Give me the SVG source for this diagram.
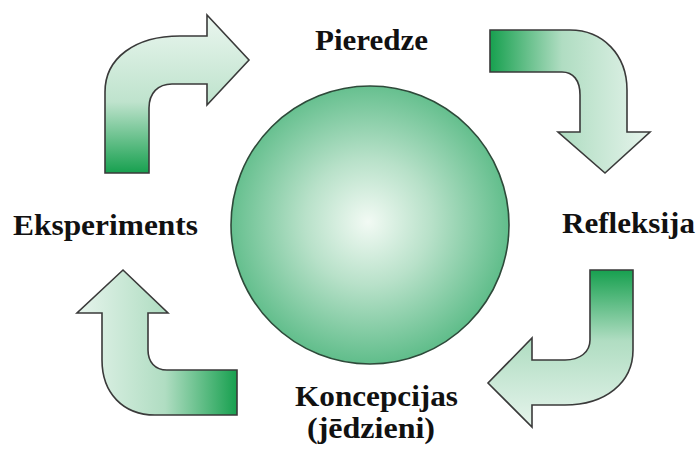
<svg xmlns="http://www.w3.org/2000/svg" width="696" height="453" viewBox="0 0 696 453">
  <style>
    .lbl { font-family: "Liberation Serif", "Times New Roman", serif; font-weight: bold; font-size: 30px; fill: #111111; }
    .arr { stroke: #3a3a3a; stroke-width: 1.6; stroke-linejoin: miter; }
  </style>
  <defs>
    <radialGradient id="gCircle" cx="368" cy="222" r="140" gradientUnits="userSpaceOnUse">
      <stop offset="0" stop-color="#f2faf4"/>
      <stop offset="0.45" stop-color="#b8e1c9"/>
      <stop offset="1" stop-color="#62be8c"/>
    </radialGradient>
    <linearGradient id="gA1" x1="0" y1="15" x2="0" y2="173" gradientUnits="userSpaceOnUse">
      <stop offset="0" stop-color="#eaf6ef"/>
      <stop offset="0.55" stop-color="#bfe3cd"/>
      <stop offset="1" stop-color="#17a04f"/>
    </linearGradient>
    <linearGradient id="gA2" x1="490" y1="0" x2="650" y2="0" gradientUnits="userSpaceOnUse">
      <stop offset="0" stop-color="#17a04f"/>
      <stop offset="0.45" stop-color="#b0ddc2"/>
      <stop offset="1" stop-color="#e6f4ec"/>
    </linearGradient>
    <linearGradient id="gA3" x1="0" y1="270" x2="0" y2="427" gradientUnits="userSpaceOnUse">
      <stop offset="0" stop-color="#17a04f"/>
      <stop offset="0.45" stop-color="#b0ddc2"/>
      <stop offset="1" stop-color="#e6f4ec"/>
    </linearGradient>
    <linearGradient id="gA4" x1="237" y1="0" x2="77" y2="0" gradientUnits="userSpaceOnUse">
      <stop offset="0" stop-color="#17a04f"/>
      <stop offset="0.45" stop-color="#b0ddc2"/>
      <stop offset="1" stop-color="#e6f4ec"/>
    </linearGradient>
  </defs>
  <rect width="696" height="453" fill="#ffffff"/>

  <g id="center">
    <circle cx="370" cy="225" r="139" fill="url(#gCircle)" stroke="#2e4a3a" stroke-width="1.6"/>
  </g>

  <g id="connectors">
    <path class="arr" fill="url(#gA1)" d="M105,173 L105,92 C105,58 135,36 180,36 L207,36 L207,15 L249,60 L207,105 L207,84 L172,84 C158,84 149,93 149,108 L149,173 Z"/>
    <path class="arr" fill="url(#gA2)" d="M490,30 L570,30 C603,30 627,55 627,90 L627,132 L650,132 L605,173 L558,132 L580,132 L580,95 C580,80 573,72 562,72 L490,72 Z"/>
    <path class="arr" fill="url(#gA3)" d="M590,270 L633,270 L633,350 C633,383 605,405 565,405 L532,405 L532,427 L488,383 L532,338 L532,360 L565,360 C580,360 590,352 590,340 Z"/>
    <path class="arr" fill="url(#gA4)" d="M237,370 L237,415 L155,415 C123,415 102,393 102,360 L102,313 L77,313 L123,270 L168,313 L148,313 L148,350 C148,362 155,370 167,370 Z"/>
  </g>

  <g id="node-pieredze">
    <text class="lbl" x="315" y="50" textLength="113" lengthAdjust="spacingAndGlyphs">Pieredze</text>
  </g>
  <g id="node-refleksija">
    <text class="lbl" x="562" y="233" textLength="133" lengthAdjust="spacingAndGlyphs">Refleksija</text>
  </g>
  <g id="node-koncepcijas">
    <text class="lbl" x="295" y="406" textLength="163" lengthAdjust="spacingAndGlyphs">Koncepcijas</text>
    <text class="lbl" x="307" y="438" textLength="128" lengthAdjust="spacingAndGlyphs">(jēdzieni)</text>
  </g>
  <g id="node-eksperiments">
    <text class="lbl" x="13" y="235" textLength="185" lengthAdjust="spacingAndGlyphs">Eksperiments</text>
  </g>
</svg>
